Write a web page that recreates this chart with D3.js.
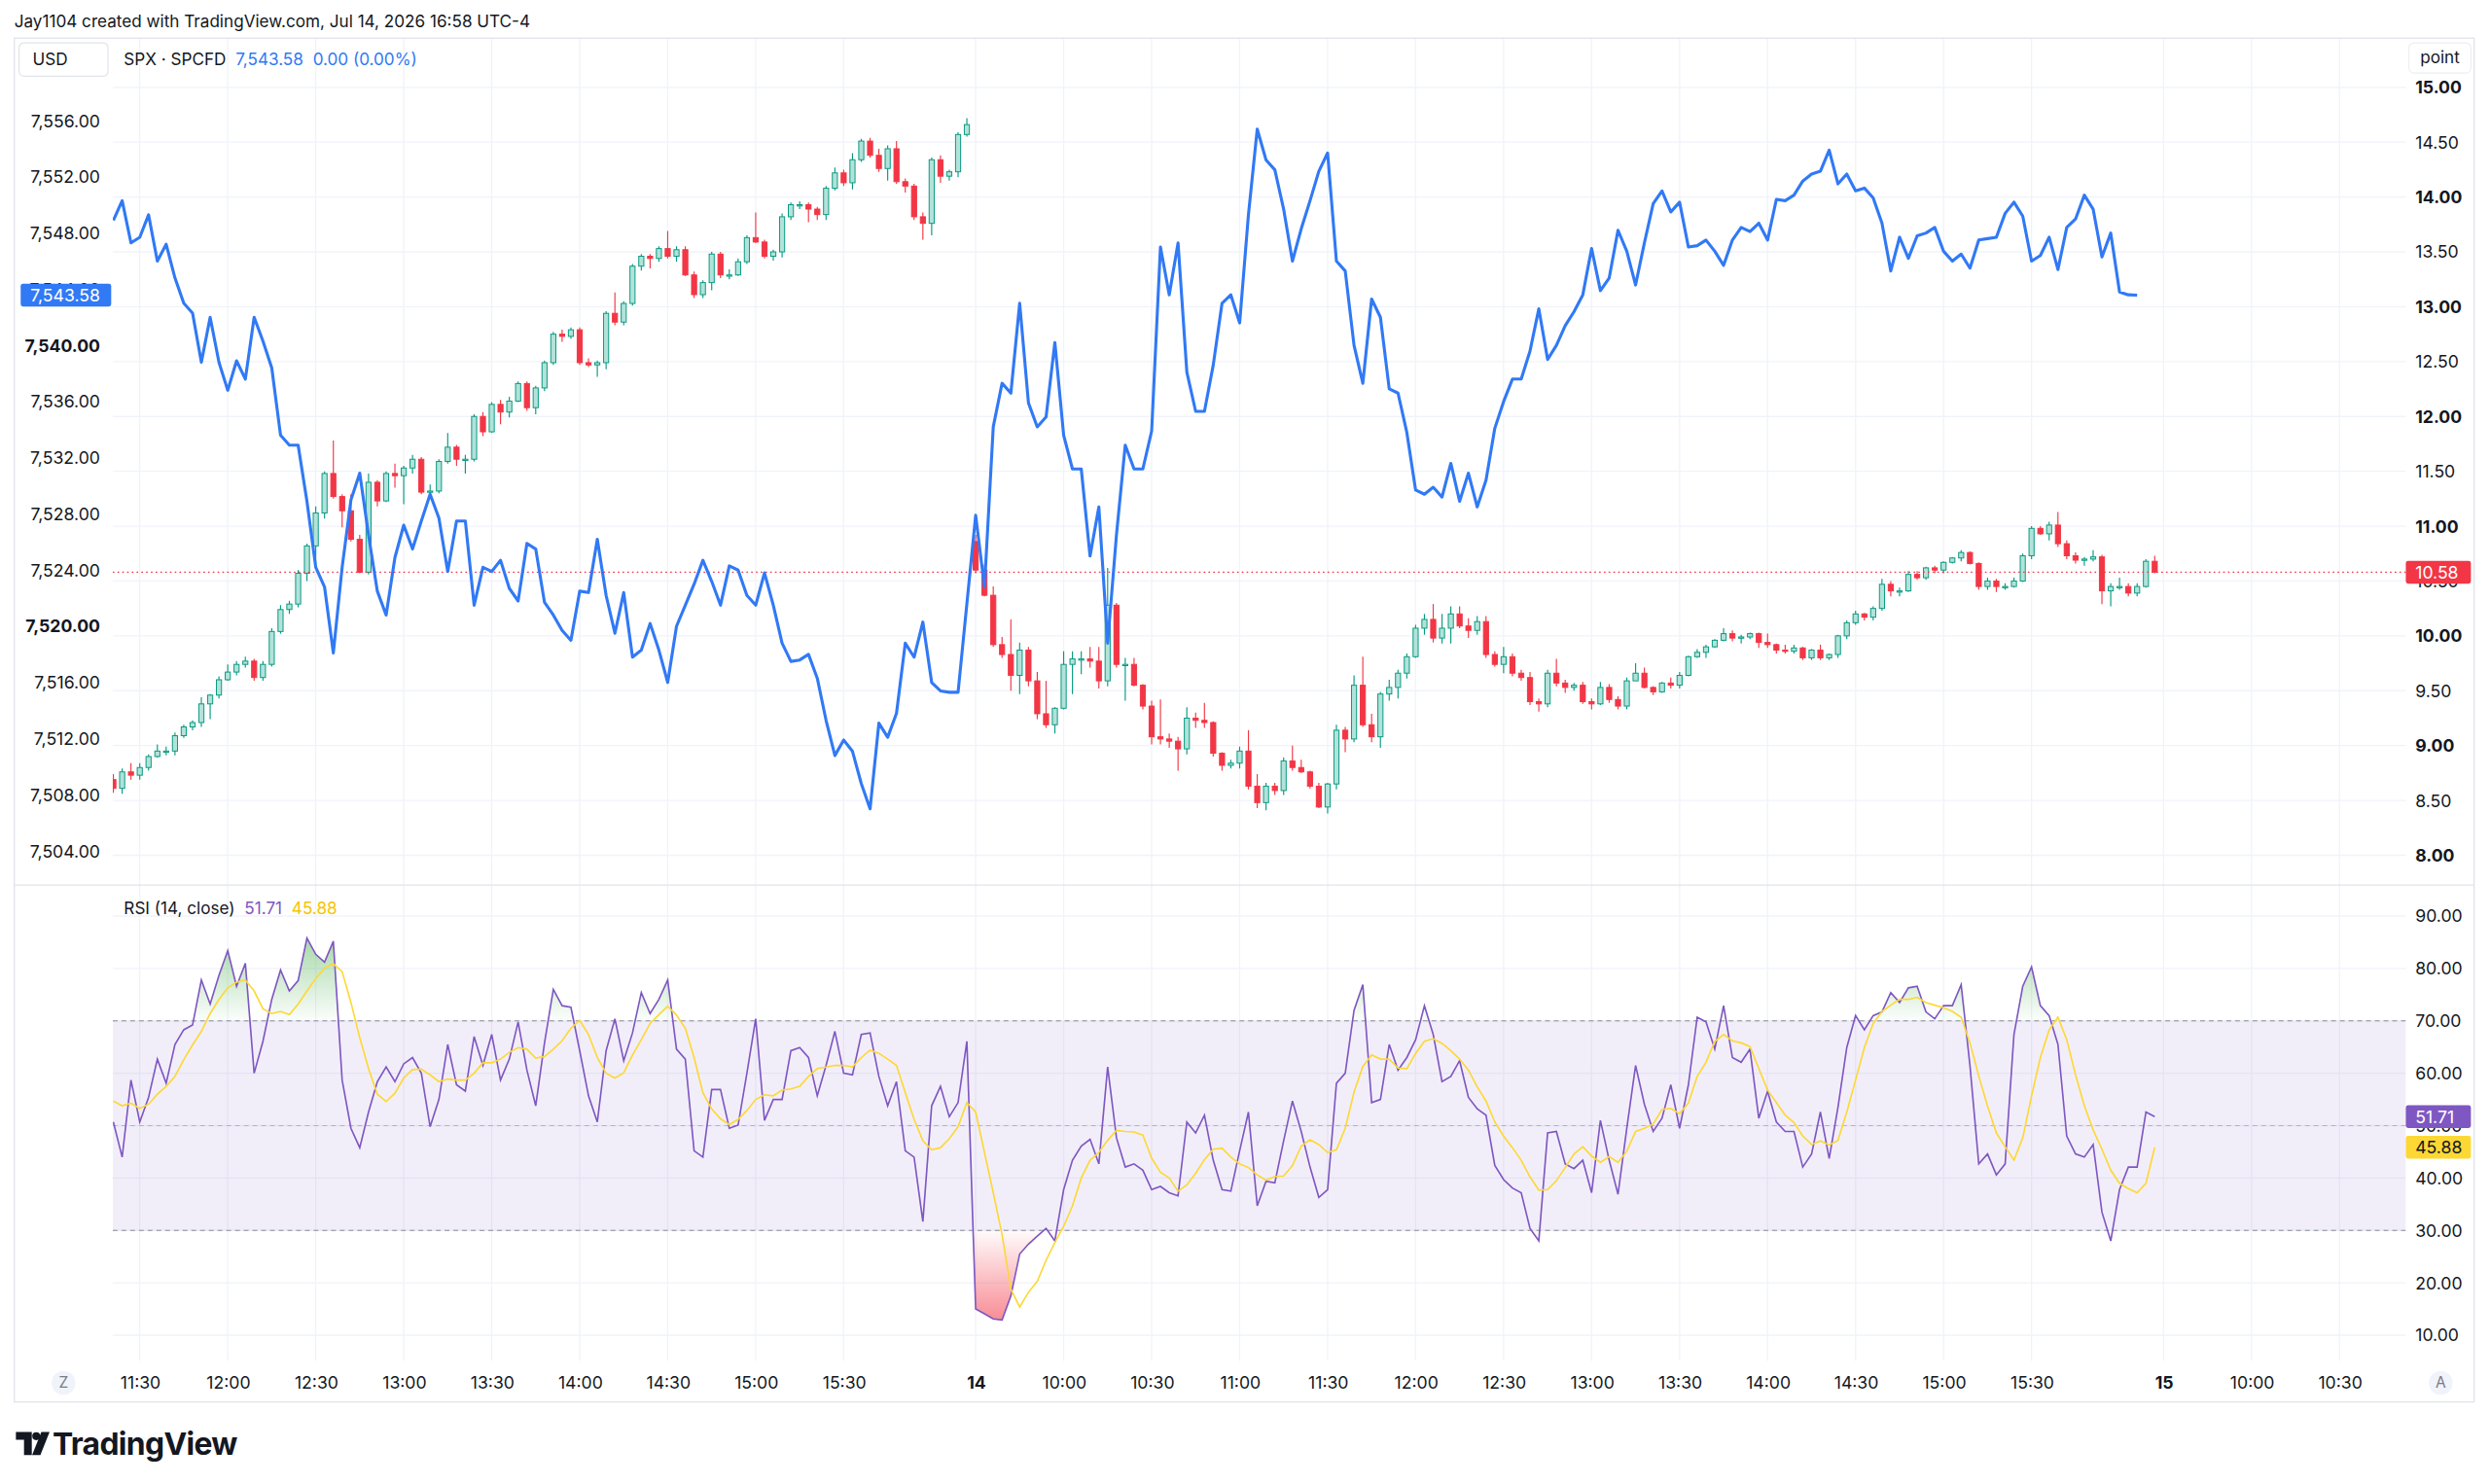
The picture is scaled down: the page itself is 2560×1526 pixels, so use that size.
<!DOCTYPE html>
<html>
<head>
<meta charset="utf-8">
<title>SPX / point with RSI</title>
<script src="https://cdn.jsdelivr.net/npm/d3@7"></script>
<style>
  html, body { margin: 0; padding: 0; background: #ffffff; }
  svg { display: block; }
  text { font-family: Inter, "Noto Sans", "DejaVu Sans", sans-serif; }
</style>
</head>
<body>
<svg id="chart" width="2560" height="1526" viewBox="0 0 1568 934.7"></svg>
<script>
// ---------------- data ----------------
// time axis is compressed: each session runs 09:30-16:15 (405 min), bars are 3 min
const sessionLength = 405;
const barMinutes = 3;
const sessions = [
    { day: 0, firstMinute: 111, bars: 98 },   // Jul 13, from 11:21
    { day: 1, firstMinute: 0, bars: 135 }     // Jul 14, from 09:30
];

// "point" candles (right scale)
const candleOpen = [
    8.69, 8.61, 8.76, 8.73, 8.80, 8.90, 8.95, 8.95, 9.09, 9.17,
    9.21, 9.38, 9.46, 9.60, 9.67, 9.74, 9.77, 9.62, 9.74, 10.04,
    10.24, 10.29, 10.57, 10.82, 11.12, 11.48, 11.27, 11.14, 10.88, 10.58,
    11.40, 11.23, 11.48, 11.46, 11.53, 11.61, 11.31, 11.32, 11.59, 11.72,
    11.61, 11.61, 12.00, 11.86, 12.11, 12.04, 12.14, 12.30, 12.08, 12.26,
    12.49, 12.75, 12.73, 12.79, 12.49, 12.47, 12.49, 12.94, 12.86, 13.03,
    13.37, 13.46, 13.44, 13.53, 13.46, 13.52, 13.29, 13.11, 13.22, 13.48,
    13.29, 13.29, 13.41, 13.63, 13.59, 13.46, 13.50, 13.82, 13.93, 13.93,
    13.89, 13.84, 14.08, 14.22, 14.13, 14.34, 14.51, 14.38, 14.26, 14.44,
    14.14, 14.10, 13.82, 13.76, 14.34, 14.19, 14.23, 14.57,
    10.86, 10.60, 10.37, 9.92, 9.83, 9.64, 9.87, 9.59, 9.29, 9.19,
    9.34, 9.74, 9.79, 9.79, 9.77, 9.59, 10.28, 9.74, 9.74, 9.55,
    9.36, 9.08, 9.06, 9.04, 8.97, 9.25, 9.23, 9.21, 8.93, 8.82,
    8.84, 8.95, 8.63, 8.48, 8.63, 8.59, 8.86, 8.80, 8.76, 8.63,
    8.44, 8.65, 9.14, 9.06, 9.55, 9.19, 9.08, 9.47, 9.53, 9.66,
    9.81, 10.07, 10.15, 9.98, 10.07, 10.20, 10.09, 10.05, 10.13, 9.83,
    9.74, 9.81, 9.66, 9.62, 9.40, 9.38, 9.66, 9.57, 9.53, 9.55,
    9.40, 9.38, 9.53, 9.42, 9.36, 9.59, 9.66, 9.53, 9.49, 9.57,
    9.55, 9.64, 9.81, 9.85, 9.90, 9.96, 10.02, 9.98, 9.99, 10.02,
    9.94, 9.92, 9.87, 9.86, 9.89, 9.80, 9.87, 9.80, 9.83, 10.00,
    10.12, 10.20, 10.17, 10.25, 10.47, 10.41, 10.41, 10.56, 10.53, 10.62,
    10.60, 10.67, 10.71, 10.76, 10.66, 10.45, 10.50, 10.45, 10.45, 10.50,
    10.73, 10.98, 10.93, 11.01, 10.84, 10.73, 10.69, 10.70, 10.72, 10.41,
    10.45, 10.45, 10.39, 10.45, 10.68
];
const candleHigh = [
    8.74, 8.79, 8.84, 8.84, 8.92, 9.01, 8.99, 9.12, 9.19, 9.23,
    9.44, 9.47, 9.63, 9.74, 9.77, 9.81, 9.79, 9.77, 10.07, 10.28,
    10.32, 10.60, 10.84, 11.18, 11.50, 11.78, 11.29, 11.29, 10.92, 11.48,
    11.42, 11.50, 11.57, 11.55, 11.65, 11.63, 11.38, 11.61, 11.85, 11.74,
    11.65, 12.02, 12.04, 12.13, 12.15, 12.18, 12.32, 12.32, 12.28, 12.51,
    12.77, 12.79, 12.81, 12.81, 12.53, 12.51, 12.96, 13.13, 13.05, 13.39,
    13.48, 13.48, 13.55, 13.69, 13.55, 13.55, 13.32, 13.24, 13.50, 13.50,
    13.34, 13.44, 13.65, 13.86, 13.61, 13.52, 13.85, 13.95, 13.96, 13.95,
    13.91, 14.10, 14.27, 14.25, 14.40, 14.53, 14.54, 14.44, 14.47, 14.51,
    14.17, 14.12, 13.86, 14.36, 14.38, 14.25, 14.59, 14.72,
    10.92, 10.65, 10.45, 9.99, 10.15, 9.94, 9.90, 9.67, 9.59, 9.35,
    9.86, 9.86, 9.86, 9.90, 9.90, 10.62, 10.30, 9.80, 9.80, 9.56,
    9.41, 9.42, 9.11, 9.08, 9.35, 9.30, 9.39, 9.22, 8.94, 8.87,
    8.99, 9.14, 8.74, 8.66, 8.66, 8.89, 9.00, 8.87, 8.77, 8.66,
    8.66, 9.19, 9.17, 9.64, 9.81, 9.29, 9.49, 9.60, 9.69, 9.84,
    10.10, 10.20, 10.29, 10.20, 10.27, 10.27, 10.16, 10.18, 10.18, 9.86,
    9.90, 9.84, 9.69, 9.67, 9.43, 9.69, 9.79, 9.60, 9.57, 9.58,
    9.43, 9.58, 9.56, 9.45, 9.62, 9.75, 9.71, 9.54, 9.58, 9.62,
    9.67, 9.82, 9.88, 9.92, 9.97, 10.07, 10.05, 10.01, 10.03, 10.03,
    10.02, 9.93, 9.92, 9.92, 9.90, 9.88, 9.92, 9.84, 10.01, 10.14,
    10.23, 10.21, 10.27, 10.52, 10.50, 10.44, 10.59, 10.59, 10.63, 10.64,
    10.68, 10.72, 10.78, 10.77, 10.67, 10.53, 10.52, 10.48, 10.53, 10.75,
    11.00, 11.00, 11.04, 11.13, 10.87, 10.76, 10.72, 10.78, 10.74, 10.48,
    10.53, 10.48, 10.48, 10.70, 10.73
];
const candleLow = [
    8.57, 8.56, 8.69, 8.69, 8.77, 8.89, 8.91, 8.91, 9.07, 9.14,
    9.17, 9.24, 9.43, 9.59, 9.64, 9.71, 9.59, 9.59, 9.72, 10.02,
    10.20, 10.26, 10.50, 10.62, 11.07, 11.25, 10.99, 10.86, 10.57, 10.56,
    11.18, 11.22, 11.35, 11.20, 11.48, 11.29, 11.28, 11.30, 11.57, 11.55,
    11.48, 11.59, 11.82, 11.85, 11.93, 11.99, 12.13, 12.05, 12.02, 12.23,
    12.47, 12.68, 12.71, 12.47, 12.45, 12.36, 12.43, 12.83, 12.83, 13.01,
    13.33, 13.35, 13.41, 13.44, 13.41, 13.28, 13.08, 13.08, 13.15, 13.26,
    13.25, 13.28, 13.39, 13.58, 13.44, 13.42, 13.45, 13.79, 13.89, 13.77,
    13.79, 13.79, 14.06, 14.10, 14.07, 14.32, 14.36, 14.23, 14.15, 14.12,
    14.04, 13.79, 13.61, 13.65, 14.13, 14.15, 14.18, 14.55,
    10.57, 10.36, 9.90, 9.80, 9.50, 9.47, 9.54, 9.24, 9.16, 9.11,
    9.33, 9.47, 9.65, 9.71, 9.52, 9.54, 9.71, 9.41, 9.54, 9.33,
    9.01, 9.01, 8.98, 8.77, 8.92, 9.16, 9.16, 8.90, 8.77, 8.79,
    8.79, 8.60, 8.43, 8.41, 8.55, 8.55, 8.77, 8.75, 8.61, 8.43,
    8.38, 8.60, 8.94, 9.03, 9.17, 9.03, 8.98, 9.41, 9.43, 9.61,
    9.80, 10.01, 9.94, 9.93, 9.93, 10.07, 9.98, 10.01, 9.80, 9.72,
    9.66, 9.63, 9.59, 9.37, 9.31, 9.35, 9.54, 9.48, 9.50, 9.38,
    9.33, 9.37, 9.39, 9.33, 9.33, 9.59, 9.52, 9.46, 9.48, 9.52,
    9.52, 9.63, 9.80, 9.80, 9.89, 9.95, 9.95, 9.93, 9.97, 9.89,
    9.89, 9.84, 9.84, 9.84, 9.78, 9.78, 9.78, 9.78, 9.80, 9.97,
    10.10, 10.14, 10.14, 10.23, 10.36, 10.36, 10.40, 10.51, 10.51, 10.57,
    10.57, 10.66, 10.68, 10.65, 10.42, 10.42, 10.40, 10.42, 10.44, 10.49,
    10.70, 10.92, 10.87, 10.81, 10.70, 10.66, 10.64, 10.68, 10.29, 10.27,
    10.42, 10.36, 10.36, 10.44, 10.57
];
const candleClose = [
    8.61, 8.76, 8.73, 8.80, 8.90, 8.95, 8.95, 9.09, 9.17, 9.21,
    9.38, 9.46, 9.60, 9.67, 9.74, 9.77, 9.62, 9.74, 10.04, 10.24,
    10.29, 10.57, 10.82, 11.12, 11.48, 11.27, 11.14, 10.88, 10.58, 11.40,
    11.23, 11.48, 11.46, 11.53, 11.61, 11.31, 11.32, 11.59, 11.72, 11.61,
    11.61, 12.00, 11.86, 12.11, 12.04, 12.14, 12.30, 12.08, 12.26, 12.49,
    12.75, 12.73, 12.79, 12.49, 12.47, 12.49, 12.94, 12.86, 13.03, 13.37,
    13.46, 13.44, 13.53, 13.46, 13.52, 13.29, 13.11, 13.22, 13.48, 13.29,
    13.29, 13.41, 13.63, 13.59, 13.46, 13.50, 13.82, 13.93, 13.93, 13.89,
    13.84, 14.08, 14.22, 14.13, 14.34, 14.51, 14.38, 14.26, 14.44, 14.14,
    14.10, 13.82, 13.76, 14.34, 14.19, 14.23, 14.57, 14.66,
    10.60, 10.37, 9.92, 9.83, 9.64, 9.87, 9.59, 9.29, 9.19, 9.34,
    9.74, 9.79, 9.79, 9.77, 9.59, 10.28, 9.74, 9.74, 9.55, 9.36,
    9.08, 9.06, 9.04, 8.97, 9.25, 9.23, 9.21, 8.93, 8.82, 8.84,
    8.95, 8.63, 8.48, 8.63, 8.59, 8.86, 8.80, 8.76, 8.63, 8.44,
    8.65, 9.14, 9.06, 9.55, 9.19, 9.08, 9.47, 9.53, 9.66, 9.81,
    10.07, 10.15, 9.98, 10.07, 10.20, 10.09, 10.05, 10.13, 9.83, 9.74,
    9.81, 9.66, 9.62, 9.40, 9.38, 9.66, 9.57, 9.53, 9.55, 9.40,
    9.38, 9.53, 9.42, 9.36, 9.59, 9.66, 9.53, 9.49, 9.57, 9.55,
    9.64, 9.81, 9.85, 9.90, 9.96, 10.02, 9.98, 9.99, 10.02, 9.94,
    9.92, 9.87, 9.86, 9.89, 9.80, 9.87, 9.80, 9.83, 10.00, 10.12,
    10.20, 10.17, 10.25, 10.47, 10.41, 10.41, 10.56, 10.53, 10.62, 10.60,
    10.67, 10.71, 10.76, 10.66, 10.45, 10.50, 10.45, 10.45, 10.50, 10.73,
    10.98, 10.93, 11.01, 10.84, 10.73, 10.69, 10.70, 10.72, 10.41, 10.45,
    10.45, 10.39, 10.45, 10.68, 10.58
];

// SPX line (left scale); null = no print for that bar
const spxClose = [
    7548.9, 7550.3, 7547.3, 7547.7, 7549.3, 7546.0, 7547.2, 7544.8, 7543.0, 7542.3,
    7538.8, 7542.0, 7538.8, 7536.8, 7538.9, 7537.6, 7542.0, 7540.3, 7538.4, 7533.6,
    7532.9, 7532.9, 7528.9, 7524.2, 7522.8, 7518.1, 7524.2, 7529.0, 7530.9, 7526.5,
    7522.5, 7520.8, 7524.9, 7527.2, 7525.5, 7527.5, 7529.4, 7527.7, 7523.9, 7527.5,
    7527.5, 7521.5, 7524.2, 7523.9, 7524.7, 7522.7, 7521.8, 7525.9, 7525.5, 7521.7,
    7520.8, 7519.7, 7519.0, 7522.5, 7522.4, 7526.2, 7522.2, 7519.5, 7522.4, 7517.8,
    7518.3, 7520.2, 7518.3, 7516.0, 7520.0, 7521.5, 7523.0, 7524.7, 7523.2, 7521.5,
    7524.3, 7524.0, 7522.2, 7521.5, 7523.8, 7521.5, 7518.8, 7517.5, 7517.6, 7518.0,
    7516.3, 7513.3, 7510.8, 7511.9, 7511.1, 7508.8, 7507.0, 7513.1, 7512.1, 7513.8,
    7518.8, 7517.8, 7520.3, 7516.0, 7515.4, 7515.3, 7515.3, null,
    7527.9, 7522.8, 7534.2, 7537.3, 7536.6, 7543.0, 7535.9, 7534.2, 7534.9, 7540.2,
    7533.6, 7531.2, 7531.2, 7525.0, 7528.5, 7518.8, 7526.5, 7532.9, 7531.2, 7531.2,
    7533.9, 7547.0, 7543.6, 7547.3, 7538.1, 7535.3, 7535.3, 7538.6, 7543.0, 7543.6,
    7541.6, 7549.3, 7555.4, 7553.2, 7552.5, 7549.7, 7546.0, 7548.3, 7550.3, 7552.4,
    7553.7, 7546.0, 7545.3, 7540.0, 7537.3, 7543.3, 7542.0, 7536.9, 7536.6, 7533.8,
    7529.7, 7529.4, 7529.9, 7529.2, 7531.6, 7528.9, 7530.9, 7528.5, 7530.4, 7534.1,
    7536.0, 7537.6, 7537.6, 7539.6, 7542.6, 7539.0, 7540.0, 7541.4, 7542.4, 7543.6,
    7546.9, 7543.9, 7544.8, 7548.2, 7546.7, 7544.3, 7547.3, 7550.1, 7551.0, 7549.5,
    7550.2, 7547.0, 7547.1, 7547.5, 7546.7, 7545.7, 7547.5, 7548.4, 7548.1, 7548.7,
    7547.5, 7550.4, 7550.3, 7550.7, 7551.7, 7552.2, 7552.4, 7553.9, 7551.5, 7552.2,
    7551.0, 7551.2, 7550.5, 7548.7, 7545.3, 7547.7, 7546.2, 7547.8, 7548.0, 7548.4,
    7546.7, 7546.0, 7546.5, 7545.5, 7547.5, 7547.6, 7547.7, 7549.4, 7550.2, 7549.2,
    7546.0, 7546.4, 7547.7, 7545.4, 7548.4, 7549.0, 7550.7, 7549.7, 7546.3, 7548.0,
    7543.8, 7543.6, 7543.58, null, null
];

// RSI (14, close) and its moving average
const rsiValues = [
    50.7, 44.0, 58.7, 50.7, 55.4, 62.7, 58.1, 65.5, 68.3, 69.2,
    77.8, 73.2, 78.7, 83.4, 76.6, 81.0, 60.0, 66.1, 74.1, 79.7,
    75.7, 77.7, 85.8, 82.7, 81.2, 85.2, 58.7, 49.5, 45.8, 52.6,
    58.4, 61.2, 58.4, 61.8, 63.0, 60.0, 49.8, 55.0, 65.5, 57.8,
    56.6, 67.0, 61.5, 67.4, 58.7, 62.7, 69.8, 60.6, 53.8, 65.8,
    76.0, 72.9, 72.6, 64.3, 55.7, 50.7, 64.3, 70.4, 62.4, 67.7,
    75.4, 71.4, 74.1, 77.8, 64.6, 62.7, 45.2, 44.0, 56.9, 56.9,
    49.5, 50.1, 60.0, 70.4, 51.0, 55.0, 55.0, 64.3, 64.9, 63.0,
    55.7, 61.5, 68.0, 60.0, 59.7, 67.4, 67.7, 59.4, 53.8, 58.4,
    45.2, 44.0, 31.7, 53.8, 57.5, 51.7, 54.4, 66.1,
    15.0, 14.1, 13.1, 12.9, 17.5, 25.5, 27.4, 28.9, 30.4, 28.0,
    37.8, 43.4, 46.1, 47.4, 42.7, 61.2, 47.7, 42.1, 42.7, 41.5,
    37.8, 38.4, 37.2, 36.6, 50.7, 48.6, 52.0, 43.4, 37.8, 37.5,
    45.2, 52.6, 34.7, 39.4, 39.1, 47.1, 54.7, 48.9, 42.1, 36.3,
    37.8, 58.1, 60.0, 72.0, 76.9, 54.4, 55.0, 65.5, 60.6, 63.0,
    66.4, 72.9, 67.4, 58.4, 59.4, 62.4, 55.4, 53.2, 52.0, 42.4,
    39.7, 38.1, 37.2, 30.4, 28.0, 48.6, 48.9, 42.7, 41.8, 43.4,
    37.2, 51.0, 43.4, 36.9, 49.5, 61.5, 54.1, 48.9, 51.4, 57.8,
    49.5, 57.8, 70.7, 69.8, 64.6, 72.9, 63.0, 62.1, 64.6, 51.4,
    56.6, 50.7, 48.9, 48.9, 42.1, 44.6, 52.6, 43.7, 53.5, 64.9,
    71.0, 68.3, 71.0, 71.7, 75.4, 73.5, 76.3, 76.6, 71.7, 70.4,
    72.9, 72.9, 76.9, 61.5, 42.7, 44.6, 40.6, 42.7, 67.4, 76.6,
    80.3, 72.9, 71.0, 65.5, 48.0, 44.6, 44.0, 46.4, 33.5, 28.0,
    37.8, 42.1, 42.1, 52.6, 51.71
];
const rsiMaValues = [
    54.7, 53.8, 54.3, 53.3, 54.1, 56.0, 57.5, 59.4, 62.6, 65.4,
    68.0, 71.4, 74.1, 76.3, 77.4, 77.8, 75.7, 72.3, 71.4, 71.8,
    71.2, 73.2, 75.7, 78.1, 80.1, 80.9, 79.4, 73.5, 66.8, 60.9,
    56.0, 54.6, 56.2, 59.1, 60.7, 60.8, 59.7, 58.4, 58.9, 58.7,
    58.7, 60.0, 62.0, 62.0, 62.7, 64.0, 64.9, 64.6, 62.9, 63.2,
    64.6, 66.2, 68.6, 70.1, 67.4, 63.0, 60.0, 59.1, 60.1, 63.5,
    66.4, 69.5, 71.2, 72.8, 71.1, 68.6, 63.0, 56.3, 53.2, 51.3,
    50.2, 51.2, 52.9, 55.0, 55.9, 55.7, 56.8, 57.0, 57.5, 59.4,
    60.9, 61.2, 61.5, 61.5, 61.2, 63.0, 64.4, 63.8, 62.7, 61.5,
    56.3, 51.2, 47.1, 45.4, 45.8, 47.5, 49.8, 54.4,
    52.6, 44.9, 37.2, 29.2, 18.8, 15.4, 18.2, 20.3, 24.3, 27.7,
    30.8, 34.7, 40.0, 43.4, 44.9, 47.2, 49.1, 48.9, 48.8, 48.2,
    43.8, 41.1, 40.0, 37.5, 38.7, 40.9, 43.5, 45.5, 45.7, 44.0,
    42.7, 42.0, 40.6, 39.6, 40.3, 40.4, 42.4, 46.1, 47.3, 46.4,
    44.9, 45.4, 49.5, 56.4, 61.3, 63.5, 62.7, 62.7, 61.0, 60.9,
    63.8, 66.1, 66.6, 65.7, 64.3, 62.7, 60.6, 57.4, 54.7, 50.7,
    48.0, 45.8, 43.4, 40.2, 37.7, 37.8, 39.5, 42.0, 44.6, 46.0,
    44.2, 43.0, 44.1, 43.0, 45.1, 48.9, 49.5, 50.3, 53.1, 53.3,
    52.3, 54.3, 59.4, 62.1, 66.1, 67.4, 66.2, 65.8, 65.1, 60.9,
    56.8, 54.4, 52.0, 50.6, 48.0, 46.4, 47.1, 46.3, 47.2, 52.6,
    58.7, 64.9, 69.5, 71.8, 73.0, 74.1, 74.1, 74.5, 73.5, 73.0,
    72.5, 71.8, 70.7, 65.8, 59.5, 53.7, 48.6, 46.0, 43.4, 47.7,
    55.7, 63.0, 68.3, 70.7, 66.4, 59.7, 53.8, 49.2, 45.5, 41.5,
    39.0, 38.0, 37.2, 39.0, 45.88
];

// axis ticks
const pointTicks = [8, 8.5, 9, 9.5, 10, 10.5, 11, 11.5, 12, 12.5, 13, 13.5, 14, 14.5, 15];
const spxTicks = [7504, 7508, 7512, 7516, 7520, 7524, 7528, 7532, 7536, 7540, 7544, 7548, 7552, 7556];
const rsiTicks = [10, 20, 30, 40, 50, 60, 70, 80, 90];
const xTickLabels = [
    [0, "11:30"], [0, "12:00"], [0, "12:30"], [0, "13:00"], [0, "13:30"], [0, "14:00"],
    [0, "14:30"], [0, "15:00"], [0, "15:30"], [1, "14"], [1, "10:00"], [1, "10:30"],
    [1, "11:00"], [1, "11:30"], [1, "12:00"], [1, "12:30"], [1, "13:00"], [1, "13:30"],
    [1, "14:00"], [1, "14:30"], [1, "15:00"], [1, "15:30"], [2, "15"], [2, "10:00"], [2, "10:30"]
];

const lastSpx = 7543.58;
const lastPoint = 10.58;
const lastRsi = 51.71;
const lastRsiMa = 45.88;

// ---------------- layout ----------------
const svg = d3.select("#chart");
const plotL = 71, plotR = 1515;
const frameT = 24, paneSplit = 557.5, rsiBottom = 857, frameB = 883;
const upColor = "#089981", upFill = "#b2e2d9", downColor = "#f23645";
const spxColor = "#3179f5", rsiColor = "#7e57c2", maColor = "#fdd835";
const textColor = "#131722", gridColor = "#f0f3fa";

// slot = minutes on the compressed axis
let barSlot = [];
sessions.forEach(function (s) {
    for (let k = 0; k < s.bars; k++) barSlot.push(s.day * sessionLength + s.firstMinute + k * barMinutes);
});
function labelSlot(t) {
    if (t[1].indexOf(":") < 0) return t[0] * sessionLength;
    let hm = t[1].split(":");
    return t[0] * sessionLength + (+hm[0] * 60 + +hm[1] - 570);
}

const x = d3.scaleLinear().domain([110.8, 892.6]).range([plotL, plotR]);
const yPt = d3.scaleLinear().domain([8, 15]).range([538.7, 55]);
const ySpx = d3.scaleLinear().domain([7504, 7556]).range([536, 76]);
const yRsi = d3.scaleLinear().domain([10, 90]).range([841, 577]);

svg.append("rect").attr("width", 1568).attr("height", 934.7).attr("fill", "#ffffff");

let defs = svg.append("defs");
function clip(id, x0, y0, x1, y1) {
    defs.append("clipPath").attr("id", id).append("rect")
        .attr("x", x0).attr("y", y0).attr("width", x1 - x0).attr("height", y1 - y0);
}
clip("clipPrice", plotL, frameT, plotR, paneSplit);
clip("clipRsi", plotL, paneSplit, plotR, rsiBottom);
clip("clipOB", plotL, paneSplit, plotR, yRsi(70));
clip("clipOS", plotL, yRsi(30), plotR, rsiBottom);

let gOB = defs.append("linearGradient").attr("id", "gradOB").attr("gradientUnits", "userSpaceOnUse")
    .attr("x1", 0).attr("x2", 0).attr("y1", yRsi(88)).attr("y2", yRsi(70));
gOB.append("stop").attr("offset", 0).attr("stop-color", "rgba(76,175,80,0.55)");
gOB.append("stop").attr("offset", 1).attr("stop-color", "rgba(76,175,80,0.02)");
let gOS = defs.append("linearGradient").attr("id", "gradOS").attr("gradientUnits", "userSpaceOnUse")
    .attr("x1", 0).attr("x2", 0).attr("y1", yRsi(30)).attr("y2", yRsi(12));
gOS.append("stop").attr("offset", 0).attr("stop-color", "rgba(242,54,69,0.02)");
gOS.append("stop").attr("offset", 1).attr("stop-color", "rgba(242,54,69,0.6)");

// ---------------- grid ----------------
let grid = svg.append("g");
grid.selectAll("line.hp").data(pointTicks).join("line").attr("class", "hp")
    .attr("x1", plotL).attr("x2", plotR)
    .attr("y1", d => yPt(d)).attr("y2", d => yPt(d))
    .attr("stroke", gridColor).attr("stroke-width", 0.8);
grid.selectAll("line.hr").data(rsiTicks).join("line").attr("class", "hr")
    .attr("x1", plotL).attr("x2", plotR)
    .attr("y1", d => yRsi(d)).attr("y2", d => yRsi(d))
    .attr("stroke", gridColor).attr("stroke-width", 0.8);
grid.selectAll("line.v").data(xTickLabels).join("line").attr("class", "v")
    .attr("x1", d => x(labelSlot(d))).attr("x2", d => x(labelSlot(d)))
    .attr("y1", frameT).attr("y2", rsiBottom)
    .attr("stroke", gridColor).attr("stroke-width", 0.8);

// ---------------- RSI pane ----------------
let rsiData = barSlot.map((s, i) => ({ s: s, r: rsiValues[i], m: rsiMaValues[i] }));
let rsiPane = svg.append("g").attr("clip-path", "url(#clipRsi)");
rsiPane.append("rect").attr("x", plotL).attr("width", plotR - plotL)
    .attr("y", yRsi(70)).attr("height", yRsi(30) - yRsi(70))
    .attr("fill", "rgba(126,87,194,0.1)");
[70, 50, 30].forEach(function (lvl) {
    rsiPane.append("line").attr("x1", plotL).attr("x2", plotR)
        .attr("y1", yRsi(lvl)).attr("y2", yRsi(lvl))
        .attr("stroke", lvl === 50 ? "#b2b5be" : "#8a8d96")
        .attr("stroke-width", 0.7).attr("stroke-dasharray", "3,2.5");
});
rsiPane.append("path").datum(rsiData).attr("clip-path", "url(#clipOB)")
    .attr("fill", "url(#gradOB)")
    .attr("d", d3.area().x(d => x(d.s)).y0(yRsi(70)).y1(d => yRsi(d.r)));
rsiPane.append("path").datum(rsiData).attr("clip-path", "url(#clipOS)")
    .attr("fill", "url(#gradOS)")
    .attr("d", d3.area().x(d => x(d.s)).y0(yRsi(30)).y1(d => yRsi(d.r)));
rsiPane.append("path").datum(rsiData).attr("fill", "none")
    .attr("stroke", rsiColor).attr("stroke-width", 1)
    .attr("d", d3.line().x(d => x(d.s)).y(d => yRsi(d.r)));
rsiPane.append("path").datum(rsiData).attr("fill", "none")
    .attr("stroke", maColor).attr("stroke-width", 1)
    .attr("d", d3.line().x(d => x(d.s)).y(d => yRsi(d.m)));

// ---------------- price pane ----------------
let bars = barSlot.map((s, i) => ({
    s: s, o: candleOpen[i], h: candleHigh[i], l: candleLow[i], c: candleClose[i]
}));
let pricePane = svg.append("g").attr("clip-path", "url(#clipPrice)");
const bodyW = 3.2;
pricePane.selectAll("line.wick").data(bars).join("line").attr("class", "wick")
    .attr("x1", d => x(d.s)).attr("x2", d => x(d.s))
    .attr("y1", d => yPt(Math.max(d.h, d.o, d.c)))
    .attr("y2", d => yPt(Math.min(d.l, d.o, d.c)))
    .attr("stroke", d => d.c >= d.o ? upColor : downColor)
    .attr("stroke-width", 0.7);
pricePane.selectAll("rect.body").data(bars).join("rect").attr("class", "body")
    .attr("x", d => x(d.s) - bodyW / 2).attr("width", bodyW)
    .attr("y", d => yPt(Math.max(d.o, d.c)))
    .attr("height", d => Math.max(0.8, Math.abs(yPt(d.o) - yPt(d.c))))
    .attr("fill", d => d.c >= d.o ? upFill : downColor)
    .attr("stroke", d => d.c >= d.o ? upColor : downColor)
    .attr("stroke-width", 0.6);

pricePane.append("line").attr("x1", plotL).attr("x2", plotR)
    .attr("y1", yPt(lastPoint)).attr("y2", yPt(lastPoint))
    .attr("stroke", downColor).attr("stroke-width", 0.8).attr("stroke-dasharray", "1,2");

let spxData = barSlot.map((s, i) => ({ s: s, v: spxClose[i] })).filter(d => d.v != null);
pricePane.append("path").datum(spxData).attr("fill", "none")
    .attr("stroke", spxColor).attr("stroke-width", 1.9).attr("stroke-linejoin", "round")
    .attr("d", d3.line().x(d => x(d.s)).y(d => ySpx(d.v)));

// ---------------- axes ----------------
function styleAxis(g) {
    g.select(".domain").remove();
    g.selectAll(".tick line").remove();
    g.selectAll("text").attr("fill", textColor).attr("font-size", 10.8)
        .style("font-family", "Inter, 'Noto Sans', sans-serif");
}
let axR = svg.append("g").attr("transform", `translate(${plotR},0)`)
    .call(d3.axisRight(yPt).tickValues(pointTicks).tickSize(0).tickPadding(6).tickFormat(d3.format(".2f")));
styleAxis(axR);
axR.selectAll("text").attr("font-weight", d => d % 1 === 0 ? 700 : 400);

let axL = svg.append("g").attr("transform", `translate(${plotL},0)`)
    .call(d3.axisLeft(ySpx).tickValues(spxTicks).tickSize(0).tickPadding(8).tickFormat(d3.format(",.2f")));
styleAxis(axL);
axL.selectAll("text").attr("font-weight", d => d % 20 === 0 ? 700 : 400);

let axRsi = svg.append("g").attr("transform", `translate(${plotR},0)`)
    .call(d3.axisRight(yRsi).tickValues(rsiTicks).tickSize(0).tickPadding(6).tickFormat(d3.format(".2f")));
styleAxis(axRsi);

let xTickMap = new Map(xTickLabels.map(t => [labelSlot(t), t[1]]));
let axX = svg.append("g").attr("transform", `translate(0,${rsiBottom})`)
    .call(d3.axisBottom(x).tickValues(xTickLabels.map(labelSlot)).tickSize(0).tickPadding(10)
        .tickFormat(d => xTickMap.get(d)));
styleAxis(axX);
axX.selectAll("text").attr("font-weight", d => xTickMap.get(d).indexOf(":") < 0 ? 700 : 400);

// last value labels
function valueLabel(xPos, yPos, w, txt, bg, fg, anchor) {
    svg.append("rect").attr("x", xPos).attr("y", yPos - 7.2).attr("width", w).attr("height", 14.4)
        .attr("rx", 1.5).attr("fill", bg);
    svg.append("text").attr("x", anchor === "end" ? xPos + w - 7 : xPos + 6).attr("y", yPos)
        .attr("dy", "0.36em").attr("text-anchor", anchor).attr("font-size", 10.8)
        .attr("fill", fg).text(txt);
}
valueLabel(13, ySpx(lastSpx), 57, d3.format(",.2f")(lastSpx), spxColor, "#ffffff", "end");
valueLabel(plotR, yPt(lastPoint), 41, lastPoint.toFixed(2), downColor, "#ffffff", "start");
valueLabel(plotR, yRsi(lastRsi), 41, lastRsi.toFixed(2), rsiColor, "#ffffff", "start");
valueLabel(plotR, yRsi(lastRsiMa), 41, lastRsiMa.toFixed(2), maColor, textColor, "start");

// ---------------- frame, legends, chrome ----------------
svg.append("rect").attr("x", 9).attr("y", frameT).attr("width", 1549).attr("height", frameB - frameT)
    .attr("fill", "none").attr("stroke", "#e0e3eb").attr("stroke-width", 0.8);
svg.append("line").attr("x1", 9).attr("x2", 1558).attr("y1", paneSplit).attr("y2", paneSplit)
    .attr("stroke", "#e0e3eb").attr("stroke-width", 0.8);

svg.append("text").attr("x", 9).attr("y", 17).attr("font-size", 10.5).attr("fill", textColor)
    .text("Jay1104 created with TradingView.com, Jul 14, 2026 16:58 UTC-4");

svg.append("rect").attr("x", 12).attr("y", 27).attr("width", 56).attr("height", 21).attr("rx", 3)
    .attr("fill", "#ffffff").attr("stroke", "#e0e3eb").attr("stroke-width", 0.7);
svg.append("text").attr("x", 20.5).attr("y", 41).attr("font-size", 10.5).attr("fill", textColor).text("USD");

svg.append("rect").attr("x", 1517).attr("y", 27).attr("width", 39).attr("height", 19).attr("rx", 3)
    .attr("fill", "#ffffff").attr("stroke", "#eceef2").attr("stroke-width", 0.7);
svg.append("text").attr("x", 1536.5).attr("y", 40).attr("text-anchor", "middle")
    .attr("font-size", 10.5).attr("fill", textColor).text("point");

function legendRow(x0, y0, parts) {
    let cx = x0;
    parts.forEach(function (p) {
        let t = svg.append("text").attr("x", cx).attr("y", y0).attr("font-size", 10.5)
            .attr("fill", p[1]).text(p[0]);
        cx += t.node().getComputedTextLength() + p[2];
    });
}
legendRow(78, 41, [["SPX · SPCFD", textColor, 6], ["7,543.58", spxColor, 6], ["0.00 (0.00%)", spxColor, 0]]);
legendRow(78, 576, [["RSI (14, close)", textColor, 6], [lastRsi.toFixed(2), rsiColor, 6], [lastRsiMa.toFixed(2), "#f5c400", 0]]);

[[40, "Z"], [1537, "A"]].forEach(function (b) {
    svg.append("circle").attr("cx", b[0]).attr("cy", 871).attr("r", 7.5).attr("fill", "#f0f3fa");
    svg.append("text").attr("x", b[0]).attr("y", 871).attr("dy", "0.35em").attr("text-anchor", "middle")
        .attr("font-size", 9.5).attr("fill", "#787b86").text(b[1]);
});

// TradingView mark
let logo = svg.append("g").attr("fill", textColor);
logo.append("path").attr("d", "M10 902 h10 v14.5 h-4.9 v-9.6 h-5.1 z");
logo.append("circle").attr("cx", 22.8).attr("cy", 904.6).attr("r", 2.5);
logo.append("path").attr("d", "M26 902 h5.2 l-5.8 14.5 h-5.2 z");
logo.append("text").attr("x", 33).attr("y", 916.5).attr("font-size", 19.5).attr("font-weight", 700)
    .attr("letter-spacing", -0.4).attr("fill", textColor).text("TradingView");
</script>
</body>
</html>
